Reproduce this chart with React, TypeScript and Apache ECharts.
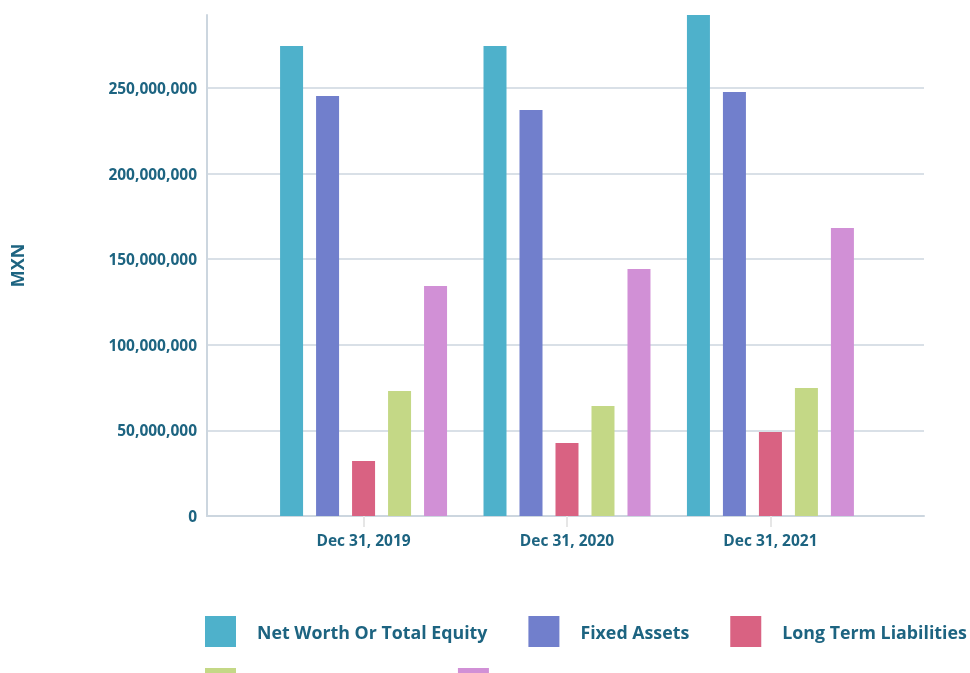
import React, { useEffect, useRef } from "react";
import * as echarts from "echarts";

const categories = ["Dec 31, 2019", "Dec 31, 2020", "Dec 31, 2021"];
const seriesNames = [
  "Net Worth Or Total Equity",
  "Fixed Assets",
  "Long Term Liabilities",
  "Current Liabilities",
  "Current Assets",
];
const netWorth = [274500000, 274500000, 292600000];
const fixedAssets = [245300000, 237100000, 247700000];
const longTermLiabilities = [32100000, 42600000, 49100000];
const currentLiabilities = [73000000, 64300000, 74800000];
const currentAssets = [134300000, 144300000, 168200000];
const seriesValues = [netWorth, fixedAssets, longTermLiabilities, currentLiabilities, currentAssets];
const colors = ["#4eb1cb", "#717fcc", "#d96282", "#c4d886", "#d190d6"];

const TEXT = "#1d6481";
const FONT = "'Open Sans', sans-serif";

export default function App() {
  const ref = useRef<HTMLDivElement>(null);
  useEffect(() => {
    if (!ref.current) return;
    const chart = echarts.init(ref.current, undefined, { renderer: "svg" });
    const legendText = {
      color: TEXT,
      fontFamily: FONT,
      fontWeight: "bold" as const,
      fontSize: 17.8,
      padding: [6, 0, 0, 16],
    };
    const legendBase = {
      left: 205,
      width: 900,
      orient: "horizontal",
      icon: "rect",
      itemWidth: 31,
      itemHeight: 31,
      itemGap: 41,
      padding: 0,
      textStyle: legendText,
      selectedMode: false,
    };
    chart.setOption({
      animation: false,
      color: colors,
      grid: { left: 205, right: 46, top: 15, bottom: 157, containLabel: false },
      legend: [
        { ...legendBase, data: seriesNames.slice(0, 3), top: 616 },
        { ...legendBase, data: seriesNames.slice(3), top: 668 },
      ],
      xAxis: {
        type: "value",
        min: -157 / 204,
        max: 2 + 154 / 204,
        splitLine: { show: false },
        axisLine: { show: true, onZero: false, lineStyle: { color: "#ccd6df", width: 2 } },
        axisTick: { show: true, length: 11, lineStyle: { color: "#e6e6e6", width: 2 } },
        axisLabel: {
          margin: 16,
          color: TEXT,
          fontFamily: FONT,
          fontWeight: "bold",
          fontSize: 15.5,
          showMinLabel: false,
          showMaxLabel: false,
          formatter: (v: number) => {
            const i = Math.round(v);
            return Math.abs(v - i) < 1e-6 && categories[i] ? categories[i] : "";
          },
        },
      },
      yAxis: {
        type: "value",
        min: 0,
        max: 292600000,
        name: "MXN",
        nameLocation: "middle",
        nameRotate: 90,
        nameGap: 181,
        nameTextStyle: { color: TEXT, fontFamily: FONT, fontWeight: "bold", fontSize: 18 },
        axisLine: { show: true, onZero: false, lineStyle: { color: "#ccd6df", width: 2 } },
        axisTick: { show: false },
        splitLine: { show: true, showMaxLine: false, lineStyle: { color: "#ccd6df", width: 1.5 } },
        axisLabel: {
          margin: 10,
          color: TEXT,
          fontFamily: FONT,
          fontWeight: "bold",
          fontSize: 15.5,
          showMaxLabel: false,
          formatter: (v: number) => v.toLocaleString("en-US"),
        },
      },
      series: seriesNames.map((name, s) => ({
        name,
        type: "bar",
        barWidth: 23,
        barGap: "56.5%",
        data: seriesValues[s].map((v, i) => [i, v]),
      })),
    });
    return () => chart.dispose();
  }, []);
  return (
    <div
      ref={ref}
      style={{ position: "fixed", left: 0, top: 0, width: 970, height: 673 }}
    />
  );
}
